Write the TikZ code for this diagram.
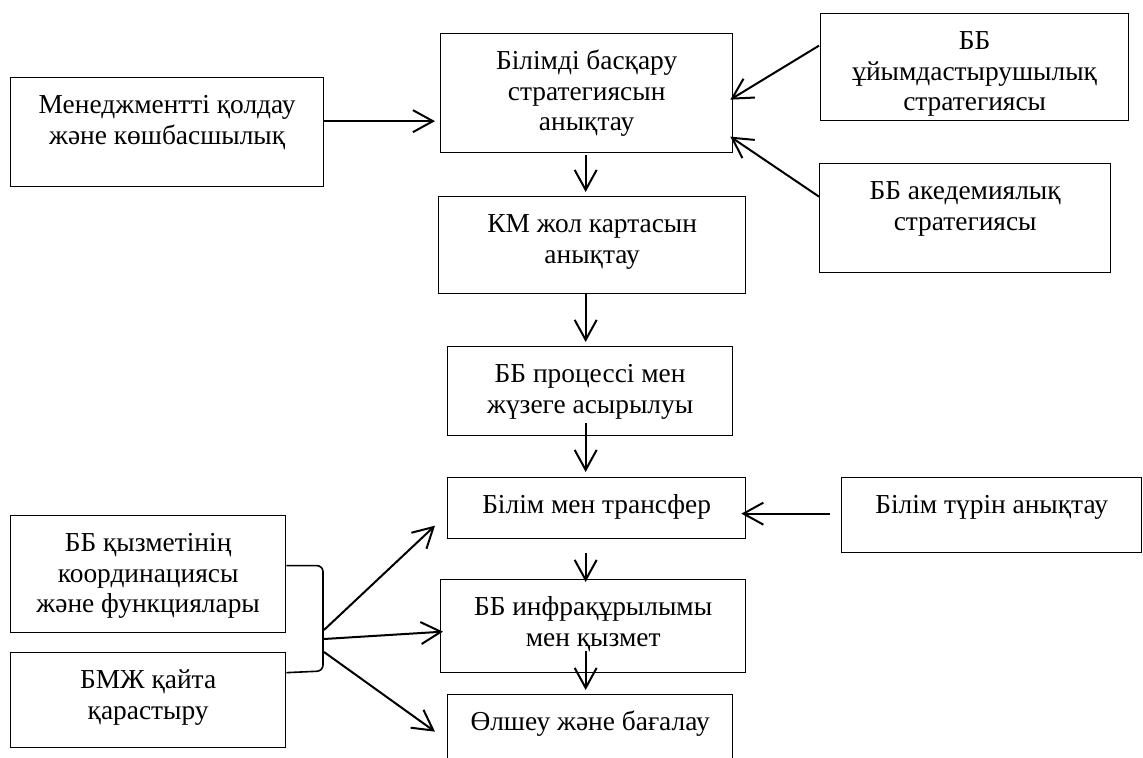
\documentclass[tikz,border=0pt]{standalone}
\usepackage{fontspec}
\setmainfont{Liberation Serif}
\usepackage{tikz}
\usetikzlibrary{arrows.meta,calc}

\newlength\pxu
\setlength\pxu{0.5pt}
% box text: width, height (px), lines
\newcommand{\bx}[3]{\parbox[t][#2\pxu][t]{#1\pxu}{\centering\vspace*{7.5pt}\strut#3}}

\begin{document}
\begin{tikzpicture}[x=0.5pt,y=-0.5pt,
	>={Straight Barb[length=10pt,width=11pt]},
	blk/.style={draw,line width=0.65pt,inner sep=0pt,anchor=north west,
		font=\fontsize{13.7}{15.2}\selectfont},
	arr/.style={->,line width=1pt},
	brk/.style={line width=0.8pt,rounded corners=3pt}]
	\useasboundingbox (0,0) rectangle (1143,758);
	\node[blk] (mgmt) at (10,77) {\bx{313}{109}{Менеджментті қолдау\\ және көшбасшылық}};
	\node[blk] (main) at (440,33) {\bx{292}{119}{Білімді басқару\\ стратегиясын\\ анықтау}};
	\node[blk] (orgstrat) at (820,13) {\bx{308}{107}{ББ\\ ұйымдастырушылық\\ стратегиясы}};
	\node[blk] (acad) at (819,163) {\bx{291}{109}{ББ акедемиялық\\ стратегиясы}};
	\node[blk] (km) at (438,196) {\bx{307}{97}{КМ жол картасын\\ анықтау}};
	\node[blk] (proc) at (447,346) {\bx{285}{89}{ББ процессі мен\\ жүзеге асырылуы}};
	\node[blk] (transfer) at (447,477) {\bx{298}{61}{Білім мен трансфер}};
	\node[blk] (ktype) at (841,477) {\bx{300}{75}{Білім түрін анықтау}};
	\node[blk] (infra) at (440,579) {\bx{305}{93}{ББ инфрақұрылымы\\ мен қызмет}};
	\node[blk] (measure) at (447,694) {\bx{285}{80}{Өлшеу және бағалау}};
	\node[blk] (coord) at (10,515) {\bx{275}{117}{ББ қызметінің\\ координациясы\\ және функциялары}};
	\node[blk] (bmzh) at (10,652) {\bx{275}{95}{БМЖ қайта\\ қарастыру}};
	\coordinate (hub) at (324,640);

	\draw[arr] ($(mgmt.east)+(0,-11)$) -- ($(main.west)+(-5,28)$);
	\draw[arr] ($(orgstrat.west)+(-1,-21.5)$) -- ($(main.east)+(-3,6.5)$);
	\draw[arr] ($(acad.west)+(0,-21.5)$) -- ($(main.east)+(-3,43.5)$);
	\draw[arr] ($(main.south)+(-1,2)$) -- ($(km.north)+(-6.5,-4)$);
	\draw[arr] ($(km.south)+(-6.5,0)$) -- ($(proc.north)+(-4.5,-4)$);
	\draw[arr] ($(proc.south)+(-4.5,-13)$) -- ($(transfer.north)+(-11,-5)$);
	\draw[arr] ($(transfer.south)+(-11,14)$) -- ($(infra.north)+(-7.5,3)$);
	\draw[arr] ($(infra.south)+(-7.5,-22)$) -- ($(measure.north)+(-4.5,-4)$);
	\draw[arr] ($(ktype.west)+(-11,-1.5)$) -- ($(transfer.east)+(-5,5.5)$);
	% bracket joining the two left boxes
	\draw[brk] ($(coord.east)+(0,-8.5)$) -| ($(hub)+(-1,31)$) -- ($(bmzh.east)+(0,-27.5)$);
	\draw[arr] ($(hub)+(0,-10)$) -- ($(transfer.west)+(-12,17.5)$);
	\draw[arr] ($(hub)+(0,-1)$) -- ($(infra.west)+(3,5.5)$);
	\draw[arr] ($(hub)+(0,12)$) -- ($(measure.west)+(-12,-3)$);
\end{tikzpicture}
\end{document}
